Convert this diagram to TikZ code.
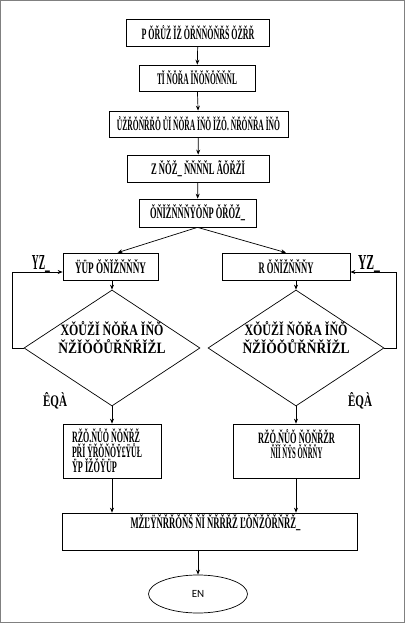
\documentclass[tikz,border=0pt]{standalone}
\usepackage{fontspec}
\usepackage{graphicx}
\setmainfont{Liberation Serif}
\newfontfamily\enfont{Carlito}
\usetikzlibrary{shapes.geometric, arrows.meta}
% texto estrecho de ancho fijo
\newcommand{\gtext}[2]{\resizebox{#1pt}{14pt}{\bfseries #2}}

\begin{document}
\begin{tikzpicture}[x=1pt, y=-1pt, line width=0.7pt, >={Stealth[length=5pt, width=4pt]}]
        % Definición de estilos
        \tikzstyle{caja} = [draw, rectangle, inner sep=0pt]
        \tikzstyle{rombo} = [draw, diamond, aspect=1.52, minimum width=176pt, minimum height=116pt, inner sep=0pt]
        \tikzstyle{texto} = [inner sep=0pt, font=\fontsize{10}{15}\selectfont]

        \useasboundingbox (0,0) rectangle (405,623);
        \draw[gray, line width=1pt] (0.5,0.5) rectangle (404.5,622.5);

        % Cajas superiores
        \node[caja, minimum width=143pt, minimum height=27pt] (inicio) at (198,32.5) {\gtext{113}{P ǑŘŮŽ ǏŽ ǑŘŇŇǑŇŘŠ ǑŽŘŘ}};
        \node[caja, minimum width=116pt, minimum height=26pt] (paso2) at (197,78) {\gtext{80}{TǏ ŇǑŘA ǏŇŎŇǑŇŇŇL}};
        \node[caja, minimum width=179pt, minimum height=26pt] (paso3) at (198.5,124) {\gtext{163}{ŮŽŘǑŇŘŘŎ ŮǏ ŇǑŘA ǏŇŎ ǏŽǑ. ŇŘǑŇŘA ǏŇŎ}};
        \node[caja, minimum width=142pt, minimum height=27pt] (paso4) at (198,168.5) {\gtext{94}{Z ŇǑŽ\_ ŇŇŇŇL ÃǑŘŽǏ}};
        \node[caja, minimum width=117pt, minimum height=28pt] (paso5) at (197.5,213) {\gtext{95}{ǑŇǏŽŇŇŇŸǑŇP ǑŘǑŽ\_}};

        % Ramas
        \node[caja, minimum width=95pt, minimum height=27pt] (izq) at (110.5,266.5) {\gtext{71}{ŸÜP ǑŇǏŽŇŇŇY}};
        \node[caja, minimum width=128pt, minimum height=27pt] (der) at (286,266.5) {\gtext{55}{R ǑŇǏŽŇŇŇY}};

        % Decisiones
        \node[rombo] (decIzq) at (112,348) {};
        \node[rombo] (decDer) at (296,348) {};
        \node[texto, align=center, font=\fontsize{10}{18}\selectfont] at ([yshift=10pt]decIzq.center) {\gtext{103}{XǑŮŽǏ ŇǑŘA ǏŇŎ}\\\gtext{107}{ŇŽǏǑǑŮŘŇŘǏŽL}};
        \node[texto, align=center, font=\fontsize{10}{18}\selectfont] at ([yshift=10pt]decDer.center) {\gtext{103}{XǑŮŽǏ ŇǑŘA ǏŇŎ}\\\gtext{107}{ŇŽǏǑǑŮŘŇŘǏŽL}};

        % Cajas inferiores
        \node[caja, minimum width=98pt, minimum height=54pt] (abajoIzq) at (112,451) {};
        \node[caja, minimum width=126pt, minimum height=54pt] (abajoDer) at (296,451) {};
        \node[texto, align=left, anchor=west] at ([xshift=9pt]abajoIzq.west) {\gtext{68}{RŽǑ.ŇŮǑ ŇǑŇŘŽ}\\\gtext{70}{PŘǏ ŸŘŎŇǑŸ£ŸŮŁ}\\\gtext{45}{ŸP ǏŽǑŸÜP}};
        \node[texto, align=center] at ([xshift=0.5pt, yshift=6.5pt]abajoDer.center) {\gtext{77}{RŽǑ.ŇŮǑ ŇǑŇŘŽR}\\\gtext{52}{ŇǏǏ ŇŸS ǑŇŘŇY}};

        \node[caja, minimum width=295pt, minimum height=37pt] (final) at (209.5,531.5) {};
        \node[texto] at ([xshift=6pt, yshift=-10pt]final.north) {\gtext{170}{MŽĽŸŇŘŘǑŇŠ ŇǏ ŇŘŘŘŽ ĽǑŇŽǑŘŇŘŽ\_}};
        \node[draw, ellipse, minimum width=99pt, minimum height=38pt, inner sep=0pt, font=\enfont\fontsize{11}{13}\selectfont] (fin) at (198,594) {EN};

        % Etiquetas
        \node[texto] (siIzq) at (41,264) {\gtext{18}{YZ\_}};
        \node[texto] (siDer) at (369,264) {\gtext{22}{YZ\_}};
        \node[texto] (noIzq) at (55,401) {\gtext{24}{ÊQÀ}};
        \node[texto] (noDer) at (360,401) {\gtext{24}{ÊQÀ}};

        % Aristas
        \coordinate (bucleIzq) at (12,348);
        \coordinate (bucleDer) at (396,348);
        \draw[->] (inicio) -- (paso2);
        \draw[->] (paso2) -- (paso3);
        \draw[->] (paso3) -- (paso4);
        \draw[->] (paso4) -- (paso5);
        \draw[->] (paso5.south) -- ([xshift=7pt]izq.north);
        \draw[->] (paso5.south) -- (der.north);
        \draw[->] (decIzq.north |- izq.south) -- (decIzq.north);
        \draw[->] (decDer.north |- der.south) -- (decDer.north);
        \draw[->] (decIzq.west) -- (bucleIzq) |- ([yshift=-5.5pt]izq.west);
        \draw[->] (decDer.east) -- (bucleDer) |- ([yshift=-5.5pt]der.east);
        \draw[->] (decIzq.south) -- (abajoIzq.north);
        \draw[->] (decDer.south) -- (abajoDer.north);
        \draw[->] (abajoIzq.south) -- (abajoIzq.south |- final.north);
        \draw[->] (abajoDer.south) -- (abajoDer.south |- final.north);
        \draw[->] (fin.north |- final.south) -- (fin.north);
\end{tikzpicture}
\end{document}
